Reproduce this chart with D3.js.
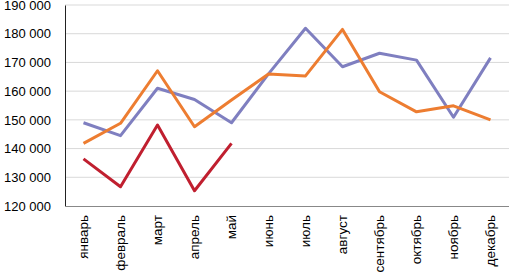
<!DOCTYPE html>
<html>
<head>
<meta charset="utf-8">
<script src="https://cdn.jsdelivr.net/npm/d3@7"></script>
<style>
  body { margin: 0; background: #fff; }
  svg { display: block; }
</style>
</head>
<body>
<div id="wrapper"></div>
<script>
// data
const months = ['январь', 'февраль', 'март', 'апрель', 'май', 'июнь',
    'июль', 'август', 'сентябрь', 'октябрь', 'ноябрь', 'декабрь'];
const seriesBlue = [149000, 144500, 161000, 157100, 149000, 166000,
    181900, 168500, 173200, 170800, 150900, 171600];
const seriesOrange = [141800, 148800, 167100, 147600, 156900, 166000,
    165300, 181500, 159800, 152800, 154900, 150000];
const seriesRed = [136400, 126700, 148200, 125300, 141800];
const yTicks = [120000, 130000, 140000, 150000, 160000, 170000, 180000, 190000];

function drawChart() {
    const dimensions = {
        width: 509,
        height: 278,
        margin: { top: 5, right: 0, bottom: 72, left: 65 }
    };
    dimensions.boundedWidth = dimensions.width - dimensions.margin.left - dimensions.margin.right;
    dimensions.boundedHeight = dimensions.height - dimensions.margin.top - dimensions.margin.bottom;

    const wrapper = d3.select('#wrapper')
        .append('svg')
        .attr('width', dimensions.width)
        .attr('height', dimensions.height);
    const bounds = wrapper.append('g')
        .attr('transform', `translate(${dimensions.margin.left},${dimensions.margin.top})`);

    // scales
    const xScale = d3.scaleBand()
        .domain(months)
        .range([0, dimensions.boundedWidth]);
    const yScale = d3.scaleLinear()
        .domain([120000, 190000])
        .range([dimensions.boundedHeight, 0]);

    // gridlines
    bounds.append('g')
        .selectAll('line')
        .data(yTicks.slice(1))
        .join('line')
        .attr('x1', 0)
        .attr('x2', dimensions.boundedWidth)
        .attr('y1', d => yScale(d))
        .attr('y2', d => yScale(d))
        .attr('stroke', '#d9d9d9')
        .attr('stroke-width', 1);

    // lines
    const lineGen = d3.line()
        .x((d, i) => xScale(months[i]) + xScale.bandwidth() / 2)
        .y(d => yScale(d));
    const series = [
        { values: seriesBlue, color: '#7f7fc0' },
        { values: seriesOrange, color: '#ed7d31' },
        { values: seriesRed, color: '#c01f2f' }
    ];
    bounds.selectAll('path.series')
        .data(series)
        .join('path')
        .attr('class', 'series')
        .attr('d', d => lineGen(d.values))
        .attr('fill', 'none')
        .attr('stroke', d => d.color)
        .attr('stroke-width', 3)
        .attr('stroke-linejoin', 'round');

    // axes
    const yAxis = bounds.append('g')
        .call(d3.axisLeft(yScale)
            .tickValues(yTicks)
            .tickSize(0)
            .tickPadding(14)
            .tickFormat(d => d3.format(',')(d).replace(/,/g, ' ')));
    yAxis.select('.domain').attr('stroke', '#222');
    yAxis.selectAll('text')
        .attr('fill', '#000')
        .style('font-family', 'Liberation Sans, Arial, sans-serif')
        .style('font-size', '13px');

    const xAxis = bounds.append('g')
        .attr('transform', `translate(0,${dimensions.boundedHeight})`)
        .call(d3.axisBottom(xScale).tickSize(0).tickSizeOuter(0));
    xAxis.select('.domain').attr('stroke', '#888');
    xAxis.selectAll('text')
        .attr('fill', '#000')
        .style('font-family', 'Liberation Sans, Arial, sans-serif')
        .style('font-size', '13.5px')
        .attr('text-anchor', 'end')
        .attr('dy', '0.35em')
        .attr('transform', 'translate(0,9) rotate(-90)')
        .attr('x', 0)
        .attr('y', 0);
}

drawChart();
</script>
</body>
</html>
